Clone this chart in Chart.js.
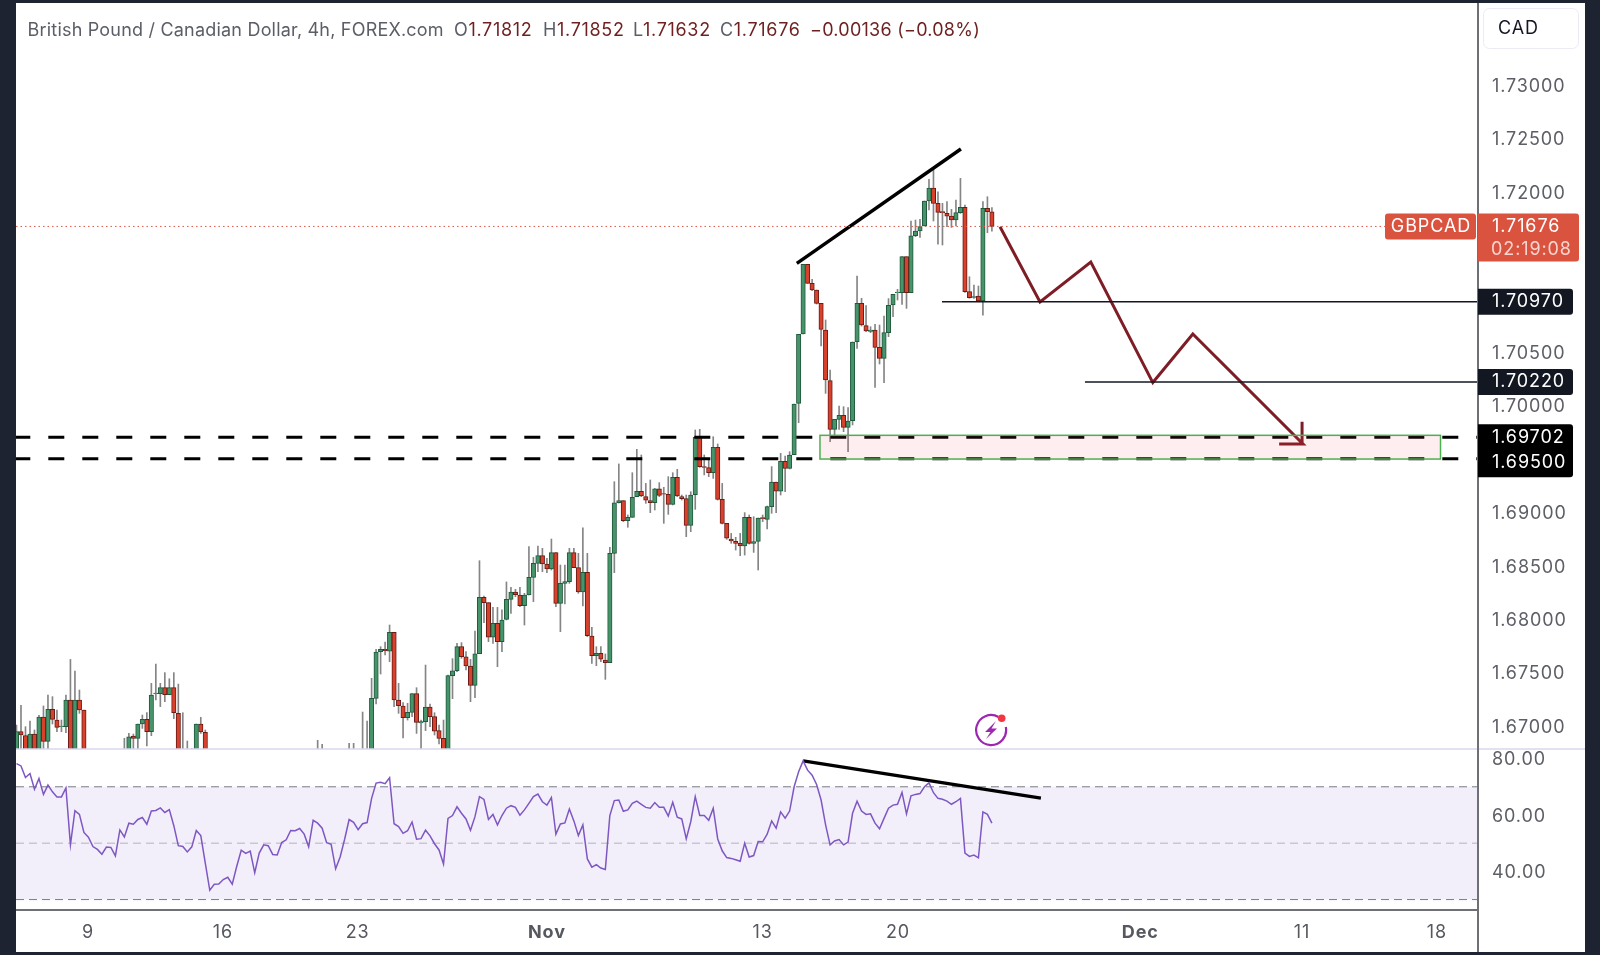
<!DOCTYPE html>
<html>
<head>
<meta charset="utf-8">
<style>
  html, body { margin: 0; height: 100%; background: #1d2330; overflow: hidden; }
  #panel { position: absolute; left: 16px; top: 3px; width: 1569px; height: 949px; background: #fff; }
  canvas { position: absolute; left: 0; top: 0; }
  .hd { position: absolute; top: 16px; font: 18px Inter, sans-serif; color: #5b5e66; white-space: nowrap; letter-spacing: 0.2px; }
  .hd.v { letter-spacing: 0.68px; }
  .hd b { font-weight: 400; color: #6e1f1f; }
  #bolt { position: absolute; left: 958px; top: 708px; }
</style>
<script src="https://cdn.jsdelivr.net/npm/chart.js@4"></script>
</head>
<body>
<div id="panel">
  <canvas id="chart" width="1569" height="949"></canvas>
  <div class="hd" style="left:11.5px">British Pound / Canadian Dollar, 4h, FOREX.com</div>
  <div class="hd v" style="left:438px">O<b>1.71812</b></div>
  <div class="hd v" style="left:527px">H<b>1.71852</b></div>
  <div class="hd v" style="left:617px">L<b>1.71632</b></div>
  <div class="hd v" style="left:704px">C<b>1.71676</b></div>
  <div class="hd" style="left:794px;letter-spacing:.25px"><b>−0.00136 (−0.08%)</b></div>
  <svg id="bolt" width="36" height="36" viewBox="0 0 36 36">
    <path d="M24.5 6 A15 15 0 1 0 31.8 16" fill="none" stroke="#9c27b0" stroke-width="2.2"/>
    <path d="M22 10 L11 21 L16.5 21 L12 28 L23 17.5 L17.5 17.5 Z" fill="#9c27b0"/>
    <circle cx="27.7" cy="7.3" r="3.8" fill="#f23645"/>
  </svg>
</div>
<script>
// candles, one entry per 4h bar (null = bar is below the visible pane)
const opens = [
  1.6672,1.66945,1.66908,1.6672,1.66923,1.6668,1.67083,1.66855,1.67154,1.67054,
  1.66992,1.66992,1.67242,1.6668,1.67242,1.67148,null,null,null,null,
  null,null,null,null,1.665,1.6665,1.66905,1.66883,1.67017,1.67061,
  1.66945,1.67301,1.67301,1.67357,1.67292,1.67357,1.67117,1.6674,1.6662,1.6672,
  1.6675,1.67017,1.66939,null,null,null,null,null,null,null,
  null,null,null,null,null,null,null,null,null,null,
  null,null,null,null,null,null,null,1.665,1.666,null,
  null,null,null,null,1.6662,1.667,null,1.666,1.6672,1.6675,
  1.67257,1.67694,1.67716,1.677,1.67875,1.67242,1.67186,1.67076,1.67126,1.67301,
  1.67027,1.67039,1.67176,1.67086,1.66955,1.66883,1.6667,1.6747,1.67516,1.67741,
  1.67647,1.6756,1.67379,1.67675,1.68203,1.68153,1.67829,1.6796,1.67788,1.67997,
  1.68184,1.68253,1.68225,1.68125,1.68225,1.6839,1.68521,1.68593,1.68515,1.68468,
  1.68621,1.68147,1.68334,1.6835,1.68621,1.68481,1.68253,1.68437,1.67841,1.67657,
  1.67679,1.67616,1.67591,1.68615,1.69089,1.69108,1.68921,1.68952,1.69146,1.69196,
  1.69146,1.69108,1.69089,1.69218,1.69174,1.69168,1.69074,1.69327,1.69146,1.69127,
  1.68877,1.69164,1.69701,1.69427,1.69417,1.6937,1.69608,1.6912,1.68896,1.68749,
  1.68727,1.68709,1.68684,1.68952,1.68709,1.68727,1.68949,1.68933,1.69052,1.69283,
  1.69196,1.69476,1.69411,1.69539,1.70019,1.70669,1.71321,1.71143,1.71081,1.70956,
  1.70706,1.70232,1.69776,1.6987,1.69907,1.69795,1.69857,1.70597,1.70956,1.70747,
  1.70694,1.70706,1.70544,1.70441,1.70681,1.7094,1.71056,1.71056,1.71393,1.71056,
  1.71589,1.71633,1.7168,1.71914,1.72036,1.71892,1.71814,1.71798,1.71773,1.71736,
  1.71805,1.71855,1.71065,1.71012,1.71024,1.70978,1.71845,1.71812
];
const highs = [
  1.67007,1.67192,1.66992,1.67045,1.66961,1.67098,1.67186,1.67289,1.67273,1.67148,
  1.67054,1.67289,1.67622,1.67513,1.67335,1.67148,null,null,null,null,
  null,null,null,null,1.66883,1.66929,1.66923,1.67017,1.67101,1.67123,
  1.67398,1.67579,1.67398,1.67498,1.67441,1.67498,1.67391,1.67123,1.66858,1.66789,
  1.67017,1.6708,1.66961,null,null,null,null,null,null,null,
  null,null,null,null,null,null,null,null,null,null,
  null,null,null,null,null,null,null,1.66864,1.66827,null,
  null,null,null,null,1.66836,1.66836,null,1.67129,1.67045,1.67445,
  1.67716,1.67741,1.67785,1.67944,1.67875,1.67398,1.67217,1.67211,1.67301,1.67357,
  1.67054,1.67569,1.67204,1.67123,1.67007,1.67054,1.67476,1.67629,1.67772,1.67779,
  1.67694,1.67622,1.67888,1.68546,1.68216,1.68153,1.68109,1.68109,1.68085,1.68347,
  1.68297,1.68278,1.68297,1.68241,1.68678,1.68578,1.68684,1.68662,1.68568,1.68749,
  1.68621,1.68506,1.68506,1.68662,1.68662,1.68615,1.68855,1.68615,1.67922,1.67741,
  1.67741,1.67673,1.68671,1.69286,1.69452,1.69108,1.68974,1.6937,1.69589,1.69536,
  1.6927,1.69302,1.69224,1.69277,1.69233,1.69333,1.6937,1.69402,1.69161,1.69161,
  1.69192,1.6977,1.69776,1.69536,1.69489,1.69707,1.69639,1.6927,1.68896,1.68802,
  1.68765,1.68802,1.68996,1.68974,1.68958,1.68946,1.68974,1.69058,1.69427,1.69283,
  1.69551,1.69526,1.69567,1.70013,1.70665,1.71321,1.71321,1.7118,1.71081,1.70956,
  1.708,1.70332,1.6987,1.69994,1.69988,1.69979,1.70594,1.71212,1.71003,1.70934,
  1.70737,1.70759,1.70753,1.70837,1.71,1.7104,1.71087,1.71393,1.71393,1.71727,
  1.71736,1.71742,1.71914,1.72117,1.7222,1.72001,1.71892,1.71908,1.71836,1.71923,
  1.72126,1.71876,1.71205,1.71127,1.71118,1.71908,1.71954,1.71852
];
const lows = [
  1.6665,1.6668,1.6665,1.6665,1.666,1.6663,1.6678,1.6675,1.67017,1.66945,
  1.66945,1.66936,1.6655,1.6655,1.67117,1.665,null,null,null,null,
  null,null,null,null,1.664,1.666,1.6672,1.6672,1.66976,1.66811,
  1.66908,1.67242,1.6718,1.67226,1.67292,1.67067,1.6665,1.665,1.6655,1.6665,
  1.6665,1.66929,1.6665,null,null,null,null,null,null,null,
  null,null,null,null,null,null,null,null,null,null,
  null,null,null,null,null,null,null,1.664,1.665,null,
  null,null,null,null,1.6655,1.666,null,1.665,1.666,1.6668,
  1.67204,1.67485,1.67663,1.67601,1.6718,1.67117,1.66886,1.67054,1.67086,1.66929,
  1.6672,1.66955,1.66992,1.66914,1.6683,1.666,1.666,1.67254,1.67507,1.67632,
  1.67523,1.67226,1.67263,1.67675,1.67966,1.67788,1.67772,1.67554,1.67694,1.67991,
  1.68053,1.68209,1.68116,1.67944,1.68225,1.68163,1.68443,1.68443,1.68434,1.68459,
  1.68116,1.67882,1.68141,1.68334,1.68481,1.68241,1.68122,1.67835,1.67585,1.67563,
  1.67601,1.67435,1.67591,1.68434,1.69086,1.68912,1.68859,1.68952,1.69146,1.69146,
  1.69083,1.68996,1.69021,1.69146,1.68896,1.6898,1.69068,1.69146,1.69114,1.68771,
  1.68818,1.69027,1.6942,1.69349,1.69333,1.69317,1.69114,1.6889,1.68746,1.68709,
  1.68646,1.68593,1.68599,1.68702,1.68624,1.68459,1.68912,1.68843,1.6899,1.68996,
  1.69161,1.69192,1.69405,1.69539,1.69838,1.70669,1.71143,1.71074,1.70949,1.70556,
  1.70113,1.6966,1.69723,1.69776,1.69754,1.69567,1.69817,1.70534,1.70743,1.7069,
  1.70681,1.70169,1.70388,1.70213,1.70644,1.70831,1.70987,1.70946,1.70909,1.71056,
  1.7158,1.71574,1.7168,1.7183,1.71727,1.71511,1.71502,1.71674,1.71667,1.7168,
  1.71798,1.71059,1.71003,1.71003,1.70971,1.70846,1.71617,1.71632
];
const closes = [
  1.66945,1.66914,1.6672,1.66923,1.6668,1.67083,1.66855,1.67154,1.67061,1.66986,
  1.66998,1.67242,1.6668,1.67242,1.67148,1.666,null,null,null,null,
  null,null,null,null,1.6665,1.66898,1.66883,1.67017,1.67061,1.66945,
  1.67289,1.67307,1.67357,1.67292,1.67357,1.67123,1.6672,1.6662,1.6672,1.6675,
  1.67017,1.66942,1.6672,null,null,null,null,null,null,null,
  null,null,null,null,null,null,null,null,null,null,
  null,null,null,null,null,null,null,1.666,1.6665,null,
  null,null,null,null,1.667,1.6665,null,1.6672,1.6675,1.67257,
  1.67691,1.67716,1.67704,1.67875,1.67242,1.67189,1.67076,1.67126,1.67301,1.67033,
  1.67039,1.67176,1.67086,1.66951,1.66883,1.6667,1.6747,1.67516,1.67741,1.67647,
  1.6756,1.67379,1.67675,1.68203,1.68153,1.67829,1.6796,1.67788,1.67991,1.68184,
  1.68253,1.68228,1.68125,1.68225,1.6839,1.68521,1.68593,1.68515,1.68468,1.68621,
  1.68147,1.68334,1.6835,1.68621,1.68481,1.68253,1.68437,1.67844,1.67657,1.67679,
  1.67623,1.67591,1.68615,1.69089,1.69108,1.68921,1.68952,1.69139,1.69196,1.69152,
  1.69114,1.69089,1.69218,1.69158,1.69168,1.69074,1.69327,1.69152,1.69127,1.68877,
  1.69161,1.69701,1.69427,1.6942,1.6937,1.69608,1.6912,1.68896,1.68756,1.68731,
  1.68709,1.68684,1.68952,1.68709,1.68724,1.68946,1.6894,1.69052,1.69283,1.69196,
  1.69476,1.69411,1.69536,1.70013,1.70665,1.71321,1.71143,1.71081,1.70956,1.70712,
  1.70238,1.69776,1.6987,1.69907,1.69795,1.69854,1.70594,1.70956,1.70753,1.70697,
  1.70706,1.70544,1.70441,1.70681,1.70937,1.7104,1.71062,1.71393,1.71056,1.71589,
  1.71633,1.71674,1.71914,1.72036,1.71892,1.71808,1.71805,1.71773,1.71736,1.71805,
  1.71855,1.71065,1.71009,1.71018,1.70978,1.71845,1.71814,1.71676
];
const rsiValues = [
  78.2,77.4,73.3,74.7,69.1,72.9,67.3,70.6,68.2,66.4,
  66.4,69.6,49.4,61.5,60.2,53.8,52.1,48.8,47.8,46.1,
  48.6,48.5,45.5,54.7,52.2,57.1,56.7,58.4,59.1,56.7,
  61.4,61.6,62.5,60.9,61.9,56.2,49.1,48.8,46.9,48.7,
  54.5,52.7,42.9,33.3,35.4,35.5,37.1,37.9,35.5,41.8,
  47.5,46.4,47.2,39.5,46.5,49.4,49.1,46.0,45.8,50.2,
  51.2,54.5,54.4,55.2,53.2,48.7,58.1,57.1,55.3,50.2,
  49.6,40.9,45.1,51.4,58.4,57.4,54.8,56.9,57.3,65.9,
  71.3,71.6,71.1,73.2,56.9,55.9,53.5,54.4,57.5,51.4,
  51.6,54.6,52.6,49.8,47.6,42.6,58.8,59.8,62.9,60.6,
  58.6,54.6,59.4,66.5,65.5,58.4,60.2,56.5,59.8,62.4,
  63.3,62.7,59.9,61.8,64.1,66.5,67.4,64.7,63.5,66.2,
  53.2,56.8,57.2,62.1,57.9,52.7,56.5,44.4,41.5,42.4,
  41.2,40.7,59.8,65.1,65.3,61.3,61.8,64.1,64.9,63.8,
  62.7,62.4,64.4,62.7,62.7,59.6,64.5,59.2,58.6,51.5,
  57.6,66.5,59.8,59.8,58.1,62.4,51.5,47.3,44.9,44.6,
  44.1,43.6,50.0,45.1,45.6,50.6,50.5,53.2,57.9,55.3,
  61.1,58.9,61.4,70,75.3,79.2,75.9,74.1,70.8,65.3,
  56.5,49.4,50.8,51.3,49.4,50.4,60.6,64.9,61.4,60.2,
  60.4,57.1,55.1,58.8,62.4,63.5,63.8,68.0,60.4,66.8,
  67.3,67.6,70,71.4,67.9,65.9,65.6,64.9,63.8,64.7,
  65.9,46.5,45.3,45.8,44.8,61.1,60.2,57.1
];

// axes
const xTickBars = [15.9, 45.9, 75.9, 118, 166, 196.1, 250, 286, 316];
const xTickLabels = ['9', '16', '23', 'Nov', '13', '20', 'Dec', '11', '18'];
const priceTicks = [1.73, 1.725, 1.72, 1.705, 1.70, 1.69, 1.685, 1.68, 1.675, 1.67];
const rsiTicks = [80, 60, 40];
const xRange = [-0.11, 325.14];
const priceRange = [1.66783, 1.73768];
const rsiRange = [26.3, 83.4];

// drawings on the chart, as [bar, price]
const lastPrice = 1.71676;
const wedgeLine = [[173.6, 1.71331], [210.1, 1.72401]];
const level1 = [[205.9, 1.7097], [325.14, 1.7097]];
const level2 = [[237.7, 1.7022], [325.14, 1.7022]];
const zoneTop = 1.69702;
const zoneBottom = 1.695;
const zoneBox = { x1: 178.75, x2: 316.8, top: 1.6972, bottom: 1.69498 };
const arrowPath = [[218.8, 1.71673], [227.7, 1.70968], [239.0, 1.71343], [252.8, 1.70214],
  [261.7, 1.70669], [286.2, 1.69639], [280.9, 1.69639], [286.2, 1.69639], [286, 1.69847]];
const rsiTrend = [[175, 79.2], [227.9, 66.0]];
const rsiBands = [70, 50, 30];

const toXY = pts => pts.map(p => ({ x: p[0], y: p[1] }));
const bars = opens.map((o, i) => i).filter(i => opens[i] !== null);
const upBars = bars.filter(i => closes[i] >= opens[i]);
const downBars = bars.filter(i => closes[i] < opens[i]);

function bodyDataset(list, fill, edge) {
  return {
    type: 'bar', order: 5, yAxisID: 'y', grouped: false,
    data: list.map(i => ({ x: i, y: [Math.min(opens[i], closes[i]), Math.max(opens[i], closes[i])] })),
    backgroundColor: fill, borderColor: edge, borderWidth: 1, borderSkipped: false, barThickness: 4.4
  };
}
function lineDataset(pts, axis, color, width, extra) {
  return Object.assign({
    type: 'line', order: 2, yAxisID: axis, data: toXY(pts),
    borderColor: color, borderWidth: width, pointRadius: 0, tension: 0, fill: false,
    borderCapStyle: 'butt', borderJoinStyle: 'miter'
  }, extra || {});
}
// no label overhang padding, the panes run edge to edge
function noPadding(s) {
  s.paddingTop = s.paddingBottom = s.paddingLeft = s.paddingRight = 0;
}

// right-hand price tags, zone box, pane lines
const overlays = {
  id: 'overlays',
  beforeDraw(chart) {
    chart.ctx.letterSpacing = '0.9px';
  },
  afterDatasetsDraw(chart) {
    const { ctx, scales } = chart;
    const x1 = scales.x.getPixelForValue(zoneBox.x1), x2 = scales.x.getPixelForValue(zoneBox.x2);
    const y1 = scales.y.getPixelForValue(zoneBox.top), y2 = scales.y.getPixelForValue(zoneBox.bottom);
    ctx.save();
    ctx.fillStyle = 'rgba(242,54,69,0.085)';
    ctx.fillRect(x1, y1, x2 - x1, y2 - y1);
    ctx.strokeStyle = '#4caf50';
    ctx.lineWidth = 1.5;
    ctx.strokeRect(x1, y1, x2 - x1, y2 - y1);
    ctx.restore();
  },
  afterDraw(chart) {
    const { ctx, scales, chartArea } = chart;
    const ax = chartArea.right;
    const py = v => scales.y.getPixelForValue(v);
    ctx.save();
    // frame lines
    ctx.strokeStyle = '#d9d6ec'; ctx.lineWidth = 1.5;
    ctx.beginPath(); ctx.moveTo(0, scales.y.bottom); ctx.lineTo(1569, scales.y.bottom); ctx.stroke();
    ctx.strokeStyle = '#6f7076'; ctx.lineWidth = 2;
    ctx.beginPath(); ctx.moveTo(0, chartArea.bottom); ctx.lineTo(ax, chartArea.bottom); ctx.stroke();
    ctx.beginPath(); ctx.moveTo(ax, 0); ctx.lineTo(ax, 949); ctx.stroke();

    const tag = (x, y, w, h, fill, r) => {
      ctx.fillStyle = fill;
      ctx.beginPath(); ctx.roundRect(x, y, w, h, r); ctx.fill();
    };
    ctx.font = '18px Inter, sans-serif';
    ctx.textBaseline = 'middle';
    ctx.textAlign = 'left';

    // last price
    const ly = py(lastPrice);
    tag(ax, ly - 13, 101, 48, '#d9533f', [0, 3, 3, 0]);
    ctx.fillStyle = '#fff';
    ctx.fillText(lastPrice.toFixed(5), ax + 14, ly);
    ctx.fillStyle = '#f8d5ce';
    ctx.fillText('02:19:08', ax + 13, ly + 23);
    tag(ax - 93, ly - 13, 91, 26, '#d9533f', 3);
    ctx.fillStyle = '#fff';
    ctx.textAlign = 'center';
    ctx.fillText('GBPCAD', ax - 47, ly);
    ctx.textAlign = 'left';

    // drawn levels
    [1.7097, 1.7022].forEach(v => {
      tag(ax, py(v) - 13, 95, 26, '#131722', [0, 3, 3, 0]);
      ctx.fillStyle = '#fff';
      ctx.fillText(v.toFixed(5), ax + 14, py(v));
    });
    tag(ax, py(zoneTop) - 13, 95, 53, '#000', [0, 3, 3, 0]);
    ctx.fillStyle = '#fff';
    ctx.fillText(zoneTop.toFixed(5), ax + 14, py(zoneTop));
    ctx.fillText(zoneBottom.toFixed(5), ax + 14, py(zoneBottom) + 4);

    // currency button
    ctx.strokeStyle = '#eceaf2'; ctx.lineWidth = 1;
    ctx.beginPath(); ctx.roundRect(ax + 5.5, 5.5, 95, 40, 6); ctx.stroke();
    ctx.fillStyle = '#131722';
    ctx.fillText('CAD', ax + 20, 26);
    ctx.restore();
  }
};

new Chart(document.getElementById('chart'), {
  data: {
    datasets: [
      { type: 'bar', order: 6, yAxisID: 'y', grouped: false,
        data: bars.map(i => ({ x: i, y: [lows[i], highs[i]] })),
        backgroundColor: '#858585', barThickness: 1 },
      bodyDataset(upBars, '#47936a', '#1f5a3c'),
      bodyDataset(downBars, '#d8412c', '#6b1a14'),
      lineDataset([[xRange[0], lastPrice], [xRange[1], lastPrice]], 'y', '#e0584a', 1, { borderDash: [1.5, 3] }),
      lineDataset([[xRange[0], zoneTop], [xRange[1], zoneTop]], 'y', '#000', 3, { borderDash: [16, 18], borderDashOffset: 1.7 }),
      lineDataset([[xRange[0], zoneBottom], [xRange[1], zoneBottom]], 'y', '#000', 3, { borderDash: [16, 18], borderDashOffset: 1.7 }),
      lineDataset(level1, 'y', '#131722', 1.5),
      lineDataset(level2, 'y', '#131722', 1.5),
      lineDataset(wedgeLine, 'y', '#000', 3.4),
      lineDataset(arrowPath, 'y', '#7f1d26', 3),
      // rsi pane
      lineDataset([[xRange[0], rsiBands[0]], [xRange[1], rsiBands[0]]], 'rsi', '#787b86', 1, {
        order: 4, borderDash: [8, 5], backgroundColor: '#f2effa', fill: { value: rsiBands[2] } }),
      lineDataset([[xRange[0], rsiBands[1]], [xRange[1], rsiBands[1]]], 'rsi', '#b5b3bd', 1, { order: 3, borderDash: [8, 5] }),
      lineDataset([[xRange[0], rsiBands[2]], [xRange[1], rsiBands[2]]], 'rsi', '#787b86', 1, { order: 3, borderDash: [8, 5] }),
      lineDataset(rsiValues.map((v, i) => [i, v]), 'rsi', '#7e57c2', 1.5),
      lineDataset(rsiTrend, 'rsi', '#000', 3.4)
    ]
  },
  options: {
    responsive: false,
    animation: false,
    layout: { padding: 0 },
    plugins: { legend: { display: false }, tooltip: { enabled: false } },
    scales: {
      x: {
        type: 'linear', offset: false, min: xRange[0], max: xRange[1],
        grid: { display: false, drawTicks: false }, border: { display: false },
        afterBuildTicks: s => { s.ticks = xTickBars.map(v => ({ value: v })); },
        afterFit: s => { s.height = 42; noPadding(s); },
        ticks: {
          autoSkip: false, maxRotation: 0, padding: 12, color: '#56585f',
          font: c => ({ family: 'Inter, sans-serif', size: 18,
            weight: /[a-z]/.test(xTickLabels[c.index] || '') ? 'bold' : 'normal' }),
          callback: (v, i) => xTickLabels[i]
        }
      },
      y: {
        type: 'linear', position: 'right', stack: 'panes', stackWeight: 746,
        min: priceRange[0], max: priceRange[1],
        grid: { display: false, drawTicks: false }, border: { display: false },
        afterBuildTicks: s => { s.ticks = priceTicks.map(v => ({ value: v })); },
        afterFit: s => { s.width = 107; noPadding(s); },
        ticks: { autoSkip: false, padding: 14, labelOffset: 1.5, color: '#5d5f66', font: { family: 'Inter, sans-serif', size: 18 },
          callback: v => v.toFixed(5) }
      },
      rsi: {
        type: 'linear', position: 'right', stack: 'panes', stackWeight: 161,
        min: rsiRange[0], max: rsiRange[1],
        grid: { display: false, drawTicks: false }, border: { display: false },
        afterBuildTicks: s => { s.ticks = rsiTicks.map(v => ({ value: v })); },
        afterFit: s => { s.width = 107; noPadding(s); },
        ticks: { autoSkip: false, padding: 14, labelOffset: 1.5, color: '#5d5f66', font: { family: 'Inter, sans-serif', size: 18 },
          callback: v => v.toFixed(2) }
      }
    }
  },
  plugins: [overlays]
});
</script>
</body>
</html>
